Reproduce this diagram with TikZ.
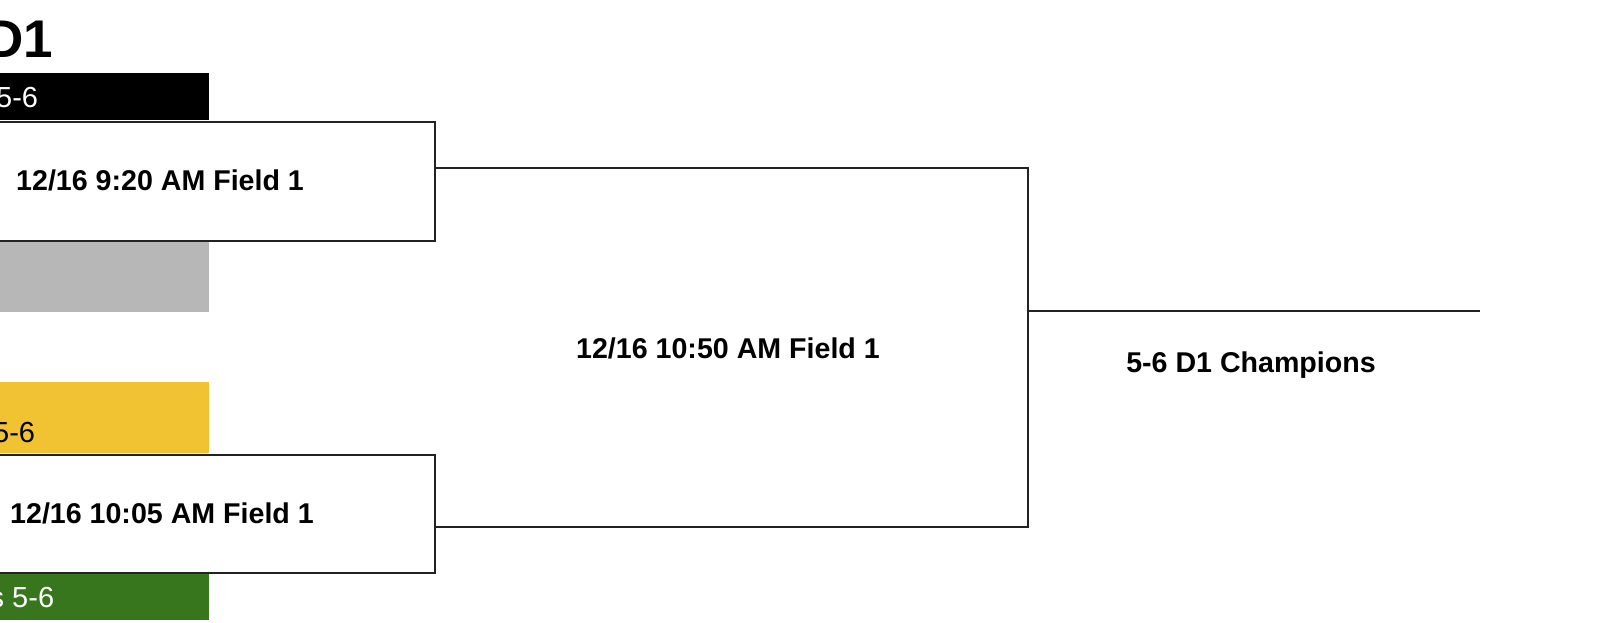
\documentclass[tikz,border=0pt]{standalone}
\usepackage{fontspec}
\setmainfont{Liberation Sans}
\definecolor{barblack}{HTML}{000000}
\definecolor{bargray}{HTML}{B7B7B7}
\definecolor{baryellow}{HTML}{F1C232}
\definecolor{bargreen}{HTML}{38761D}
\definecolor{linecol}{HTML}{222222}
\tikzset{
  bar/.style={draw=none, inner sep=0pt, outer sep=0pt, anchor=north west},
  gamebox/.style={draw=linecol, line width=2pt, fill=white, inner sep=0pt, anchor=north west},
  gametext/.style={inner sep=0pt, font=\fontsize{28.6}{30}\selectfont\bfseries},
  teamtext/.style={inner sep=0pt, font=\fontsize{29}{31}\selectfont},
  conn/.style={draw=linecol, line width=2pt}
}
\begin{document}
\begin{tikzpicture}[x=1pt,y=-1pt]
\useasboundingbox (0,0) rectangle (1600,623);
\clip (0,0) rectangle (1600,623);
\fill[white] (0,0) rectangle (1600,623);
% title
\node[inner sep=0pt, anchor=base east, font=\fontsize{53}{55}\selectfont\bfseries] (title) at (53,58) {D1};
% team bars
\node[bar, fill=barblack, minimum width=229pt, minimum height=47pt] (t1) at (-20,73) {};
\node[bar, fill=bargray, minimum width=229pt, minimum height=72pt] (t2) at (-20,240) {};
\node[bar, fill=baryellow, minimum width=229pt, minimum height=71pt] (t3) at (-20,382) {};
\node[bar, fill=bargreen, minimum width=229pt, minimum height=48pt] (t4) at (-20,572) {};
\node[teamtext, text=white, anchor=base west] (t1l) at (-4,108) {5-6};
\node[teamtext, text=black, anchor=base west] (t3l) at (-7,442) {5-6};
\node[teamtext, text=white, anchor=base west] (t4l) at (-10.5,607) {s 5-6};
% game boxes
\node[gamebox, minimum width=454pt, minimum height=119pt] (g1) at (-20,121) {};
\node[gamebox, minimum width=454pt, minimum height=118pt] (g2) at (-20,454) {};
\node[gametext, anchor=base west] (g1l) at (16,190) {12/16 9:20 AM Field 1};
\node[gametext, anchor=base west] (g2l) at (10,523) {12/16 10:05 AM Field 1};
% connectors
\coordinate (top) at (1028,168);
\coordinate (bot) at (1028,527);
\coordinate (mid) at (1028,311);
\coordinate (fin) at (1480,311);
\draw[conn] (g1.east |- top) -- (top) -- (bot) -- (g2.east |- bot);
\draw[conn] (mid) -- (fin);
\node[gametext, anchor=base] (g3l) at (728,358) {12/16 10:50 AM Field 1};
\node[gametext, anchor=base] (champ) at (1251,372) {5-6 D1 Champions};
\end{tikzpicture}
\end{document}
